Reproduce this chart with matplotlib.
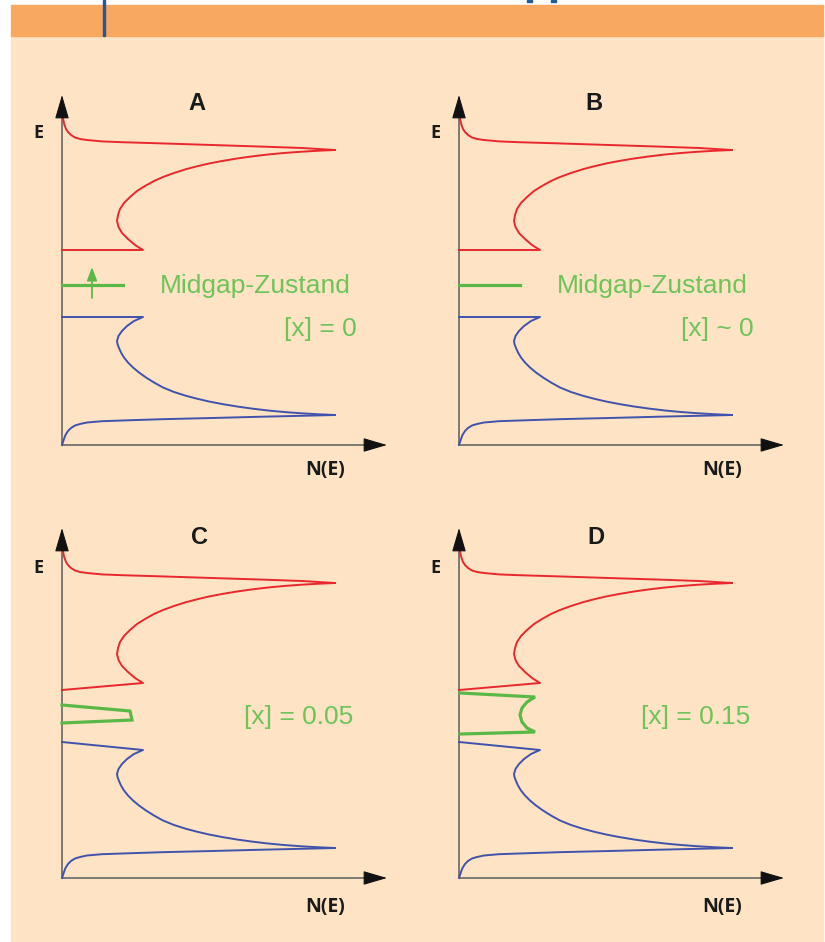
import matplotlib
matplotlib.use("Agg")
import matplotlib.pyplot as plt
from matplotlib.patches import Rectangle

from matplotlib import rc
rc('font', **{'family': 'sans-serif', 'sans-serif': ['Liberation Sans'], 'size': 10})

# colours
BEIGE = '#fee4c4'
ORANGE = '#f9a860'
DARKBLUE = '#1f5a9a'
RED = '#e8282c'
BLUE = '#4152ac'
GREEN = '#5ab946'
GREEN_TXT = '#6ec35a'
AXIS = '#666666'

# ---- data (N, E in pixel-like units from the origin) ----
# conduction band (red): tail at top down to the peak, then the arc back to the band edge
red_tail_N = [1, 1.5, 2.5, 4, 6, 9, 13, 18, 25, 40, 60, 100, 150, 200, 240, 273]
red_tail_E = [327, 324, 320, 316, 313, 310, 307.5, 306, 305, 303.6, 302.8, 301.6, 300,
              298.4, 297, 295]
red_arc_N = [273, 255, 238, 222, 206, 190, 175, 160, 147, 135, 124, 112, 101, 92, 83,
             75, 68, 62, 58, 56, 55, 56.5, 60, 66, 73, 81]
red_arc_E = [295, 294.2, 293.2, 292, 290.5, 288.6, 286.5, 284, 281.5, 278.7, 275.8, 272,
             268, 264, 259, 254, 248, 242, 236, 230, 224, 218, 212, 206, 200, 195]

# valence band (blue)
blue_tail_N = [0, 1, 2, 3.5, 6, 9, 13, 18, 25, 40, 60, 100, 150, 200, 240, 273]
blue_tail_E = [0, 3, 6, 10, 14, 17, 19.5, 21, 22.5, 23.8, 24.5, 25.8, 27, 28.3, 29.2, 30]
blue_arc_N = [273, 255, 238, 222, 206, 190, 175, 160, 147, 135, 124, 112, 101, 92, 84,
              77, 71, 66, 62, 59, 57, 55.5, 55, 56.5, 60, 65, 72, 81]
blue_arc_E = [30, 30.8, 31.8, 33, 34.5, 36.4, 38.5, 41, 43.5, 46.3, 49.2, 53, 57.5, 62.5,
              67.5, 72.5, 77.5, 82.5, 87.5, 92.5, 97, 101, 104, 109, 114, 119, 124, 128]

panels = ['A', 'B', 'C', 'D']
# where the band edge closes on the E axis
red_close_E = [195, 195, 188, 188]
blue_close_E = [128, 128, 136, 136]

# midgap states (green)
green_N = [[0, 61],
           [0, 61],
           [0, 68, 70, 0],
           [1, 76, 68, 63, 61, 63, 68, 76, 1]]
green_E = [[160, 160],
           [160, 160],
           [173, 167, 158, 155],
           [185, 181, 176, 170, 163, 156, 150, 146, 144]]

labels = [['Midgap-Zustand', '[x] = 0'],
          ['Midgap-Zustand', '[x] ~ 0'],
          ['[x] = 0.05'],
          ['[x] = 0.15']]

# panel origins in pixels (x right, y down)
origins = [(62, 445), (459, 445), (62, 878), (459, 878)]

W, H = 825, 942
fig = plt.figure(figsize=(W / 100, H / 100), dpi=100)
fig.patch.set_facecolor('white')

# page background, header band (kept behind the axes)
fig.patches.append(Rectangle((11 / W, 0), (823 - 11) / W, (H - 36) / H,
                             transform=fig.transFigure, color=BEIGE, zorder=-3))
fig.patches.append(Rectangle((11 / W, (H - 36) / H), (823 - 11) / W, 31 / H,
                             transform=fig.transFigure, color=ORANGE, zorder=-3))
fig.patches.append(Rectangle((103 / W, (H - 36) / H), 2 / W, 36 / H,
                             transform=fig.transFigure, color=DARKBLUE, zorder=-2))
for gx in (527, 551):
    fig.patches.append(Rectangle((gx / W, (H - 2) / H), 5 / W, 2 / H,
                                 transform=fig.transFigure, color=DARKBLUE, zorder=-2))

x0, x1, y0, y1 = -55, 345, -50, 365
for k, p in enumerate(panels):
    ox, oy = origins[k]
    ax = fig.add_axes([(ox + x0) / W, (H - (oy - y0)) / H, (x1 - x0) / W, (y1 - y0) / H])
    ax.set_xlim(x0, x1)
    ax.set_ylim(y0, y1)
    ax.set_axis_off()

    # axes with arrow heads
    ax.plot([0, 0], [0, 340], color=AXIS, lw=1.2, solid_capstyle='butt')
    ax.plot([0, 315], [0, 0], color=AXIS, lw=1.2, solid_capstyle='butt')
    head = dict(arrowstyle='-|>,head_length=0.75,head_width=0.22', color='#111111',
                lw=0.8, mutation_scale=20, shrinkA=0, shrinkB=0)
    ax.annotate('', xy=(0, 350), xytext=(0, 335), arrowprops=head)
    ax.annotate('', xy=(325, 0), xytext=(310, 0), arrowprops=head)

    # bands
    ax.plot(red_tail_N, red_tail_E, color=RED, lw=1.4, solid_joinstyle='round')
    ax.plot(red_arc_N + [0], red_arc_E + [red_close_E[k]], color=RED, lw=1.4,
            solid_joinstyle='round')
    ax.plot(blue_tail_N, blue_tail_E, color=BLUE, lw=1.4, solid_joinstyle='round')
    ax.plot(blue_arc_N + [0], blue_arc_E + [blue_close_E[k]], color=BLUE, lw=1.4,
            solid_joinstyle='round')

    # midgap
    ax.plot(green_N[k], green_E[k], color=GREEN, lw=2.3, solid_joinstyle='miter')
    if p == 'A':
        ax.annotate('', xy=(30, 178), xytext=(30, 147),
                    arrowprops=dict(arrowstyle='-|>,head_length=0.8,head_width=0.3',
                                    color=GREEN, lw=1.3, mutation_scale=10,
                                    shrinkA=0, shrinkB=0))

    # texts
    top = k < 2
    ax.text(135 if top else 137, 335 if top else 334, p, ha='center', va='baseline',
            fontsize=17, fontweight='bold', color='#1a1a1a')
    ax.text(-24, 307 if top else 305, 'E', ha='center', va='baseline',
            fontsize=13, fontweight='bold', family='Open Sans', color='#1a1a1a')
    ax.text(263, -30 if top else -34, 'N(E)', ha='center', va='baseline',
            fontsize=14, fontweight='bold', family='Open Sans', color='#1a1a1a')

    if top:
        ax.text(193, 152, labels[k][0], ha='center', va='baseline',
                fontsize=19, color=GREEN_TXT)
        ax.text(295, 109, labels[k][1], ha='right', va='baseline',
                fontsize=19, color=GREEN_TXT)
    else:
        ax.text(291, 154, labels[k][0], ha='right', va='baseline',
                fontsize=19, color=GREEN_TXT)

fig.savefig('out.png', dpi=100, facecolor=fig.get_facecolor())
